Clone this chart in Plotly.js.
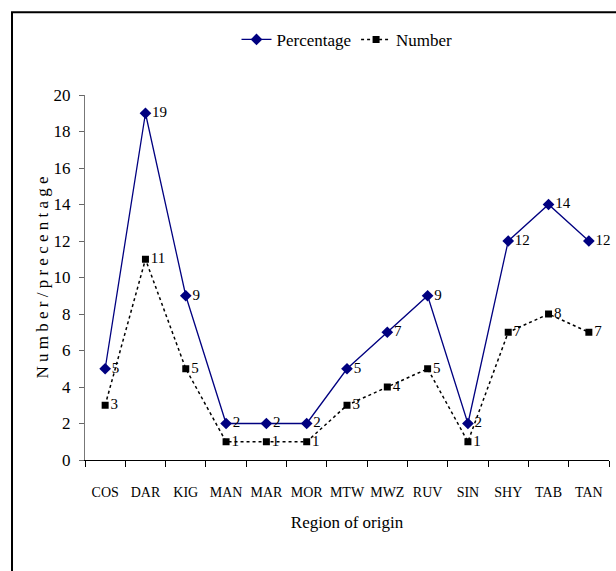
<!DOCTYPE html>
<html>
<head>
<meta charset="utf-8">
<script src="https://cdn.plot.ly/plotly-3.0.1.min.js"></script>
<style>html,body{margin:0;padding:0;background:#fff;}#chart{width:616px;height:571px;}</style>
</head>
<body>
<div id="chart"></div>
<script>
const regions = ["COS","DAR","KIG","MAN","MAR","MOR","MTW","MWZ","RUV","SIN","SHY","TAB","TAN"];
const percentage = [5,19,9,2,2,2,5,7,9,2,12,14,12];
const number = [3,11,5,1,1,1,3,4,5,1,7,8,7];
const yTicks = [0,2,4,6,8,10,12,14,16,18,20];

const serif = "Liberation Serif";

const traces = [
  {
    x: regions, y: percentage, name: "Percentage", type: "scatter",
    mode: "lines+markers+text",
    text: percentage.map(String), textposition: "middle right",
    textfont: {family: serif, size: 15, color: "#000"},
    line: {color: "#000080", width: 1.3},
    marker: {symbol: "diamond", size: 9, color: "#000080"},
    cliponaxis: false
  },
  {
    x: regions, y: number, name: "Number", type: "scatter",
    mode: "lines+markers+text",
    text: number.map(String), textposition: "middle right",
    textfont: {family: serif, size: 15, color: "#000"},
    line: {color: "#000", width: 1.5, dash: "dot"},
    marker: {symbol: "square", size: 7, color: "#000"},
    cliponaxis: false
  }
];

const layout = {
  width: 616, height: 571,
  margin: {l: 85, r: 7, t: 95, b: 111},
  paper_bgcolor: "#fff", plot_bgcolor: "#fff",
  font: {family: serif, size: 15, color: "#000"},
  showlegend: true,
  legend: {orientation: "h", x: 0.5, xanchor: "center", xref: "paper", y: 1.151, yanchor: "middle",
           font: {family: serif, size: 17}, itemwidth: 30, bgcolor: "rgba(0,0,0,0)"},
  xaxis: {
    type: "category", range: [-0.5, 12.5], tickson: "boundaries",
    ticks: "outside", ticklen: 6, tickcolor: "#000", tickangle: 0,
    ticklabelstandoff: 19,
    showline: true, linecolor: "#000", linewidth: 1,
    showgrid: false, zeroline: false,
    tickfont: {family: serif, size: 14},
    title: {text: "Region of origin", font: {family: serif, size: 17}, standoff: 17}
  },
  yaxis: {
    range: [0, 20], tickvals: yTicks, ticktext: yTicks.map(String),
    ticks: "outside", ticklen: 5, tickcolor: "#666",
    ticklabelstandoff: 5,
    showline: true, linecolor: "#777", linewidth: 1,
    showgrid: false, zeroline: false,
    tickfont: {family: serif, size: 17},
    title: {text: "N u m b e r / p r e c e n t a g e", font: {family: serif, size: 17}, standoff: 0}
  },
  shapes: [
    {type: "rect", xref: "paper", yref: "paper", x0: -0.1393, x1: 1.03, y0: -0.33, y1: 1.227,
     line: {color: "#000", width: 2}, fillcolor: "rgba(0,0,0,0)", layer: "above"}
  ]
};

Plotly.newPlot("chart", traces, layout, {displayModeBar: false, staticPlot: true});
</script>
</body>
</html>
